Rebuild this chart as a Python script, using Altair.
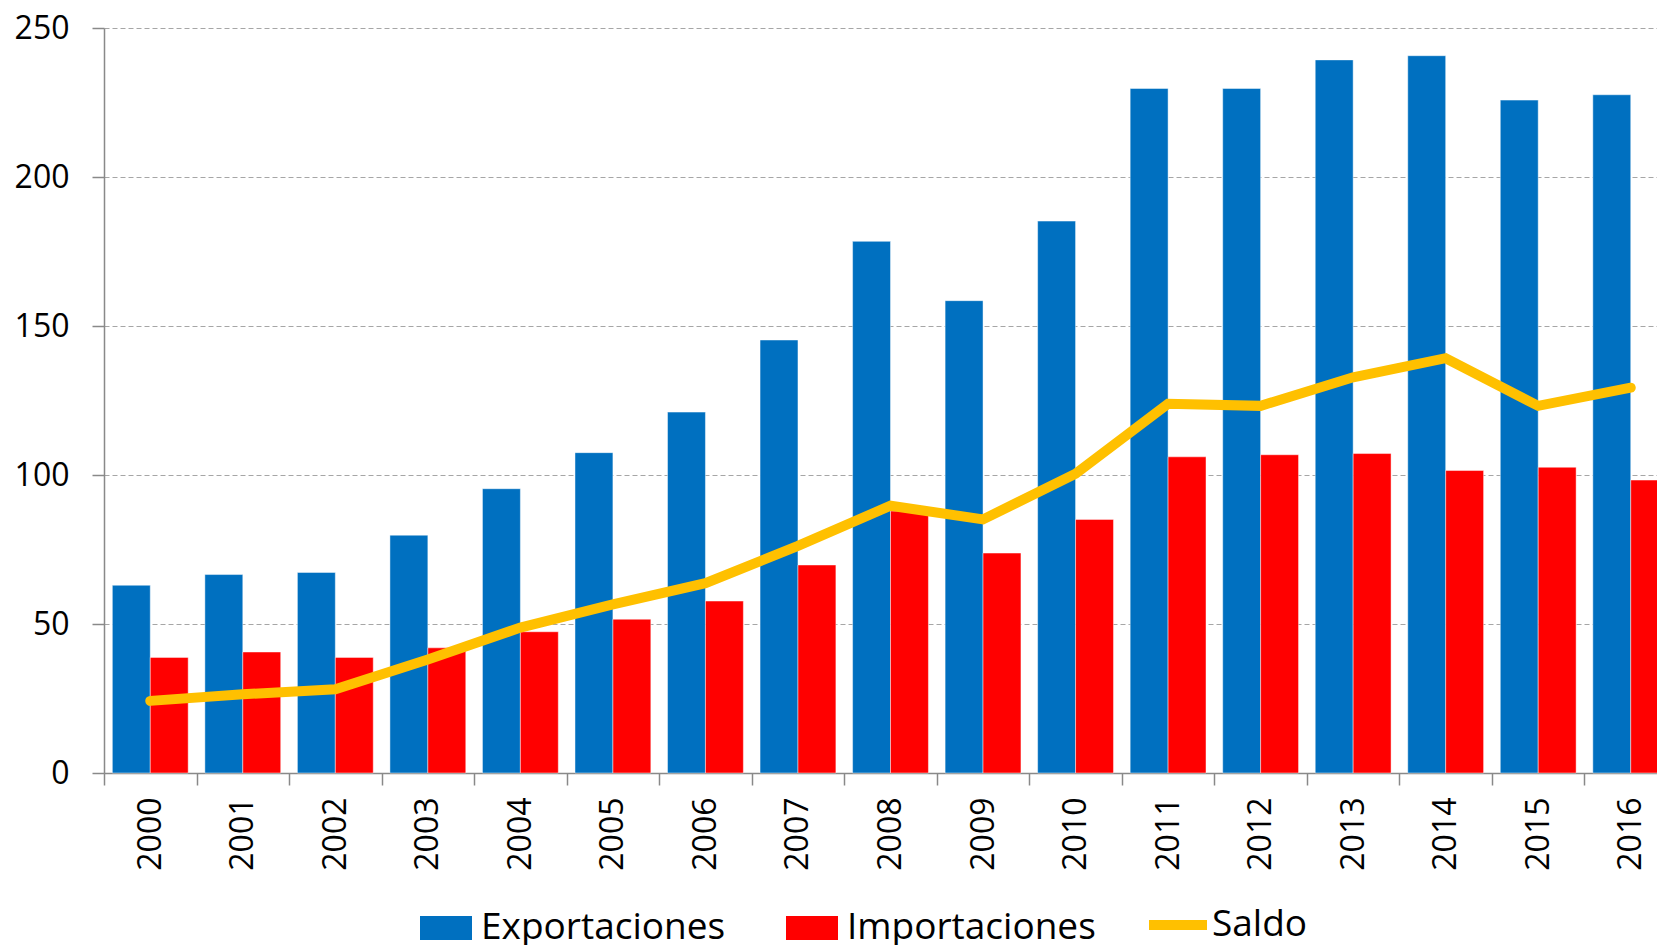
import altair as alt
import pandas as pd

years = [str(y) for y in range(2000, 2017)]
exportaciones = [63.0, 66.6, 67.3, 79.8, 95.4, 107.5, 121.1, 145.3, 178.4, 158.5,
                 185.2, 229.7, 229.7, 239.3, 240.7, 225.8, 227.6]
importaciones = [38.8, 40.6, 38.8, 42.0, 47.4, 51.6, 57.7, 69.8, 87.9, 73.8,
                 85.1, 106.1, 106.8, 107.2, 101.5, 102.6, 98.3]
saldo = [24.2, 26.4, 28.1, 38.1, 48.8, 56.6, 63.7, 76.2, 89.7, 85.1,
         100.4, 123.9, 123.2, 132.8, 139.2, 123.2, 129.3]
series = ["Exportaciones", "Importaciones"]
colors = ["#0070C0", "#FF0000"]
line_name = "Saldo"
line_color = "#FFC000"
y_ticks = [0, 50, 100, 150, 200, 250]

bar_df = pd.DataFrame(
    [{"year": y, "serie": series[0], "value": v} for y, v in zip(years, exportaciones)]
    + [{"year": y, "serie": series[1], "value": v} for y, v in zip(years, importaciones)]
)
line_df = pd.DataFrame({"year": years, "value": saldo, "s": [line_name] * len(years)})

FONT = "Open Sans"
AXIS_GRAY = "#898989"

x_enc = alt.X(
    "year:N",
    sort=years,
    title=None,
    scale=alt.Scale(paddingInner=0, paddingOuter=0),
    axis=alt.Axis(
        tickBand="extent",
        labelAngle=-90,
        labelFont=FONT,
        labelFontSize=32,
        labelColor="black",
        labelPadding=12,
        tickSize=12,
        tickColor=AXIS_GRAY,
        tickWidth=1.5,
        domainColor=AXIS_GRAY,
        domainWidth=1.5,
        grid=False,
    ),
)

y_enc = alt.Y(
    "value:Q",
    title=None,
    scale=alt.Scale(domain=[0, 250], nice=False),
    axis=alt.Axis(
        values=y_ticks,
        labelFont=FONT,
        labelFontSize=32,
        labelColor="black",
        labelPadding=23,
        tickSize=12,
        tickColor=AXIS_GRAY,
        tickWidth=1.5,
        domainColor=AXIS_GRAY,
        domainWidth=1.5,
        grid=True,
        gridColor="#A6A6A6",
        gridDash=[5, 3],
        gridWidth=1,
    ),
)

bars = alt.Chart(bar_df).mark_bar(
    stroke="white", strokeWidth=1, strokeOpacity=0.45
).encode(
    x=x_enc,
    xOffset=alt.XOffset(
        "serie:N",
        sort=series,
        scale=alt.Scale(domain=series, paddingInner=0, paddingOuter=0.22),
    ),
    y=y_enc,
    color=alt.Color(
        "serie:N",
        scale=alt.Scale(domain=series, range=colors),
        legend=alt.Legend(
            title=None,
            orient="none",
            direction="horizontal",
            legendX=316,
            legendY=874,
            symbolType="M-1,-0.46H1V0.46H-1Z",
            symbolSize=2704,
            symbolStrokeWidth=0,
            symbolOpacity=1,
            labelFont=FONT,
            labelFontSize=37,
            labelColor="black",
            labelOffset=9,
            columnPadding=60,
            labelLimit=400,
        ),
    ),
)

line = alt.Chart(line_df).mark_line(
    strokeWidth=10, strokeCap="round", strokeJoin="miter"
).encode(
    x=alt.X("year:N", sort=years),
    y=alt.Y("value:Q"),
    stroke=alt.Stroke(
        "s:N",
        scale=alt.Scale(domain=[line_name], range=[line_color]),
        legend=alt.Legend(
            title=None,
            orient="none",
            direction="horizontal",
            legendX=1040,
            legendY=863,
            symbolType="stroke",
            symbolSize=3364,
            symbolStrokeWidth=10,
            labelFont=FONT,
            labelFontSize=37,
            labelColor="black",
            labelOffset=0,
            labelLimit=400,
        ),
    ),
)

# The reference is cropped on the right edge: the plot area is wider than the
# visible page, so the right padding is negative and keeps the SVG within the
# page's content box (so the page does not rescale it); the overflow is clipped.
chart = (
    alt.layer(bars, line)
    .properties(
        width=1573,
        height=745,
        autosize=alt.AutoSizeParams(type="none"),
        padding={"left": 96, "top": 20, "right": -20, "bottom": 175},
        background="white",
    )
    .configure_view(stroke=None)
)

chart.save("out.html", embed_options={"renderer": "svg", "actions": False})
